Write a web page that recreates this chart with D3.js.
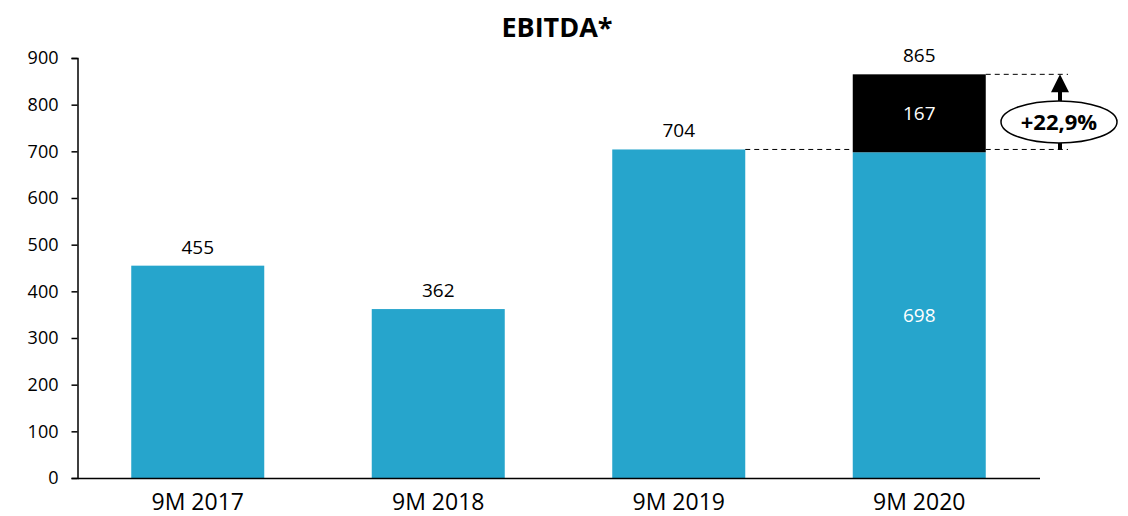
<!DOCTYPE html>
<html>
<head>
<meta charset="utf-8">
<script src="https://cdn.jsdelivr.net/npm/d3@7"></script>
<style>
  body { margin: 0; background: #fff; }
  text { font-family: "Open Sans", "Noto Sans", sans-serif; }
</style>
</head>
<body>
<div id="chart"></div>
<script>
// data
var categories = ["9M 2017", "9M 2018", "9M 2019", "9M 2020"];
var baseValues = [455, 362, 704, 698];
var topValues = [0, 0, 0, 167];
var totalLabels = ["455", "362", "704", "865"];
var yTicks = [0, 100, 200, 300, 400, 500, 600, 700, 800, 900];
var growthLabel = "+22,9%";

var W = 1128, H = 516;
var blue = "#26a5cc";
var fontFam = "'Open Sans', 'Noto Sans', sans-serif";

var svg = d3.select("#chart").append("svg")
  .attr("width", W)
  .attr("height", H);

var x = d3.scaleBand()
  .domain(categories)
  .range([77.5, 1039.5])
  .paddingInner(0.447)
  .paddingOuter(0.2235);

var y = d3.scaleLinear()
  .domain([0, 900])
  .range([478, 58]);

// title
svg.append("text")
  .attr("x", 557)
  .attr("y", 37)
  .attr("text-anchor", "middle")
  .style("font-size", "27px")
  .style("font-weight", "bold")
  .text("EBITDA*");

// bars - base
svg.selectAll("rect.base").data(baseValues).enter()
  .append("rect")
  .attr("class", "base")
  .attr("x", function(d, i) { return x(categories[i]); })
  .attr("y", function(d) { return y(d); })
  .attr("width", x.bandwidth())
  .attr("height", function(d) { return y(0) - y(d); })
  .attr("fill", blue);

// bars - increment
svg.selectAll("rect.top").data(topValues).enter()
  .filter(function(d) { return d > 0; })
  .append("rect")
  .attr("class", "top")
  .attr("x", function(d) { var i = topValues.indexOf(d); return x(categories[i]); })
  .attr("y", function(d) { var i = topValues.indexOf(d); return y(baseValues[i] + d); })
  .attr("width", x.bandwidth())
  .attr("height", function(d) { var i = topValues.indexOf(d); return y(baseValues[i]) - y(baseValues[i] + d); })
  .attr("fill", "#000");

// total labels above bars
svg.selectAll("text.total").data(totalLabels).enter()
  .append("text")
  .attr("class", "total")
  .attr("x", function(d, i) { return x(categories[i]) + x.bandwidth() / 2; })
  .attr("y", function(d, i) { return y(baseValues[i] + topValues[i]) - 12; })
  .attr("text-anchor", "middle")
  .style("font-size", "19px")
  .text(function(d) { return d; });

// inside labels for stacked bar
var last = categories.length - 1;
var cx = x(categories[last]) + x.bandwidth() / 2;
svg.append("text")
  .attr("x", cx)
  .attr("y", y(baseValues[last] + topValues[last] / 2) + 7)
  .attr("text-anchor", "middle")
  .attr("fill", "#fff")
  .style("font-size", "19px")
  .text(topValues[last]);
svg.append("text")
  .attr("x", cx)
  .attr("y", y(baseValues[last] / 2) + 7)
  .attr("text-anchor", "middle")
  .attr("fill", "#fff")
  .style("font-size", "19px")
  .text(baseValues[last]);

// axes
var yAxis = d3.axisLeft(y).tickValues(yTicks).tickSizeOuter(0).tickSize(6).tickPadding(13);
var gy = svg.append("g").attr("transform", "translate(77.5,0)").call(yAxis);
gy.select(".domain").attr("stroke", "#000").attr("stroke-width", 1.5);
gy.selectAll(".tick line").attr("stroke", "#000").attr("stroke-width", 1.5);
gy.selectAll(".tick text").style("font-size", "18px").attr("fill", "#000")
  .style("font-family", fontFam);

var xAxis = d3.axisBottom(x).tickSize(0).tickPadding(16);
var gx = svg.append("g").attr("transform", "translate(0," + y(0) + ")").call(xAxis);
gx.select(".domain").attr("stroke", "#000").attr("stroke-width", 1.5);
gx.selectAll(".tick text").style("font-size", "23px").attr("fill", "#000")
  .style("font-family", fontFam);

// dashed reference lines
var prev = categories.length - 2;
var dash = "5,4";
svg.append("line")
  .attr("x1", x(categories[prev]) + x.bandwidth())
  .attr("x2", x(categories[last]))
  .attr("y1", y(baseValues[prev]))
  .attr("y2", y(baseValues[prev]))
  .attr("stroke", "#000").attr("stroke-dasharray", dash);
var ax = 1060;
[baseValues[prev], baseValues[last] + topValues[last]].forEach(function(v) {
  svg.append("line")
    .attr("x1", x(categories[last]) + x.bandwidth())
    .attr("x2", 1068)
    .attr("y1", y(v))
    .attr("y2", y(v))
    .attr("stroke", "#000").attr("stroke-dasharray", dash);
});

// arrow
var yFrom = y(baseValues[prev]);
var yTo = y(baseValues[last] + topValues[last]);
svg.append("line")
  .attr("x1", ax).attr("x2", ax)
  .attr("y1", yFrom).attr("y2", yTo + 16)
  .attr("stroke", "#000").attr("stroke-width", 4);
svg.append("path")
  .attr("d", "M" + (ax - 9) + "," + (yTo + 18) + "L" + ax + "," + yTo + "L" + (ax + 9) + "," + (yTo + 18) + "Z")
  .attr("fill", "#000");

// ellipse with growth label
var ey = (yFrom + yTo) / 2 + 10;
svg.append("ellipse")
  .attr("cx", 1059).attr("cy", ey)
  .attr("rx", 58).attr("ry", 21)
  .attr("fill", "#fff").attr("stroke", "#000").attr("stroke-width", 1.5);
svg.append("text")
  .attr("x", 1059).attr("y", ey + 8)
  .attr("text-anchor", "middle")
  .style("font-size", "22px")
  .style("font-weight", "bold")
  .text(growthLabel);
</script>
</body>
</html>
